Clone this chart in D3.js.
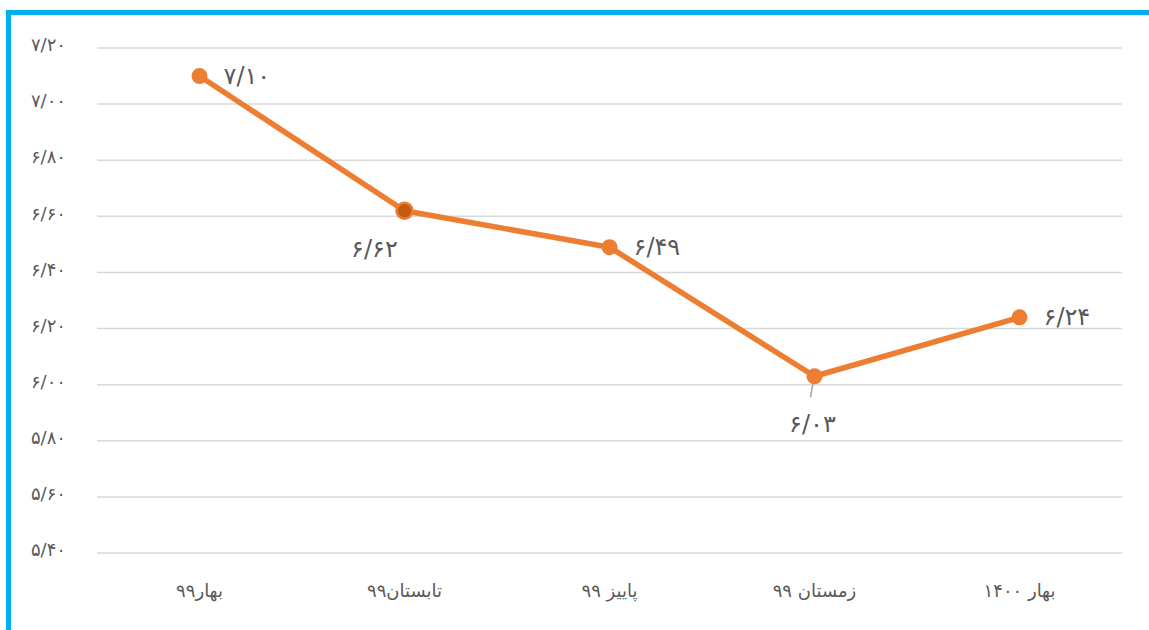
<!DOCTYPE html>
<html><head><meta charset="utf-8">
<script src="https://cdn.jsdelivr.net/npm/d3@7"></script>
<style>
html,body{margin:0;padding:0;background:#fff;}
svg{display:block;}
text{font-family:"DejaVu Sans","Noto Sans",sans-serif;fill:#595959;}
</style></head>
<body>
<svg id="chart" width="1149" height="630"></svg>
<script>
const categories = ["بهار۹۹", "تابستان۹۹", "پاییز ۹۹", "زمستان ۹۹", "بهار ۱۴۰۰"];
const values = [7.10, 6.62, 6.49, 6.03, 6.24];
const yTicks = [5.40, 5.60, 5.80, 6.00, 6.20, 6.40, 6.60, 6.80, 7.00, 7.20];
const labelPos = ["right", "below-left", "right", "below", "right"];

const toFa = s => s.replace(/\d/g, d => "۰۱۲۳۴۵۶۷۸۹"[+d]);
const fmt = v => toFa(v.toFixed(2).replace(".", "/"));

const svg = d3.select("#chart");
const W = 1149, H = 630;

// outer border
svg.append("rect").attr("x", 8.5).attr("y", 12.5).attr("width", W + 20).attr("height", H + 20)
  .attr("fill", "none").attr("stroke", "#00B0F0").attr("stroke-width", 5);

const x = d3.scaleBand().domain(categories).range([97, 1122]);
const y = d3.scaleLinear().domain([5.40, 7.20]).range([553, 48]);

// gridlines
svg.append("g").selectAll("line").data(yTicks).join("line")
  .attr("x1", 97).attr("x2", 1122)
  .attr("y1", d => y(d)).attr("y2", d => y(d))
  .attr("stroke", "#D9D9D9").attr("stroke-width", 1.5);

// y axis labels
const yAxis = d3.axisLeft(y).tickValues(yTicks).tickFormat(fmt).tickSize(0).tickPadding(0);
const gy = svg.append("g").attr("transform", "translate(66,-3)").call(yAxis);
gy.select(".domain").remove();
gy.selectAll("text").style("font-size", "18px").style("font-family", "DejaVu Sans, sans-serif").attr("fill", "#7F7F7F");

// x axis labels
const xAxis = d3.axisBottom(x).tickSize(0).tickPadding(0);
const gx = svg.append("g").attr("transform", "translate(0,584)").call(xAxis);
gx.select(".domain").remove();
gx.selectAll("text").style("font-size", "18px").style("font-family", "DejaVu Sans, sans-serif").attr("fill", "#7F7F7F");

const cx = c => x(c) + x.bandwidth() / 2;

// line
const line = d3.line().x((d, i) => cx(categories[i])).y(d => y(d));
svg.append("path").datum(values).attr("d", line)
  .attr("fill", "none").attr("stroke", "#ED7D31").attr("stroke-width", 5.5).attr("stroke-linejoin", "round");

// leader line for lowest label
values.forEach((v, i) => {
  if (labelPos[i] === "below") {
    svg.append("line")
      .attr("x1", cx(categories[i]) - 1).attr("y1", y(v) + 4)
      .attr("x2", cx(categories[i]) - 4).attr("y2", y(v) + 21)
      .attr("stroke", "#A6A6A6").attr("stroke-width", 1.5);
  }
});

// markers
svg.append("g").selectAll("circle").data(values).join("circle")
  .attr("cx", (d, i) => cx(categories[i])).attr("cy", d => y(d)).attr("r", 8)
  .attr("fill", (d, i) => i === 1 ? "#C55A11" : "#ED7D31")
  .attr("stroke", "#ED7D31").attr("stroke-width", (d, i) => i === 1 ? 2.5 : 0);

// data labels
svg.append("g").selectAll("text").data(values).join("text")
  .attr("x", (d, i) => {
    const p = labelPos[i], c = cx(categories[i]);
    if (p === "right") return c + 24;
    if (p === "below-left") return c - 30;
    return c - 2;
  })
  .attr("y", (d, i) => {
    const p = labelPos[i], yy = y(d);
    if (p === "right") return yy + 8;
    if (p === "below-left") return yy + 46;
    return yy + 56;
  })
  .attr("text-anchor", (d, i) => labelPos[i] === "right" ? "start" : "middle")
  .style("font-size", "24px")
  .text(d => fmt(d));
</script>
</body></html>
